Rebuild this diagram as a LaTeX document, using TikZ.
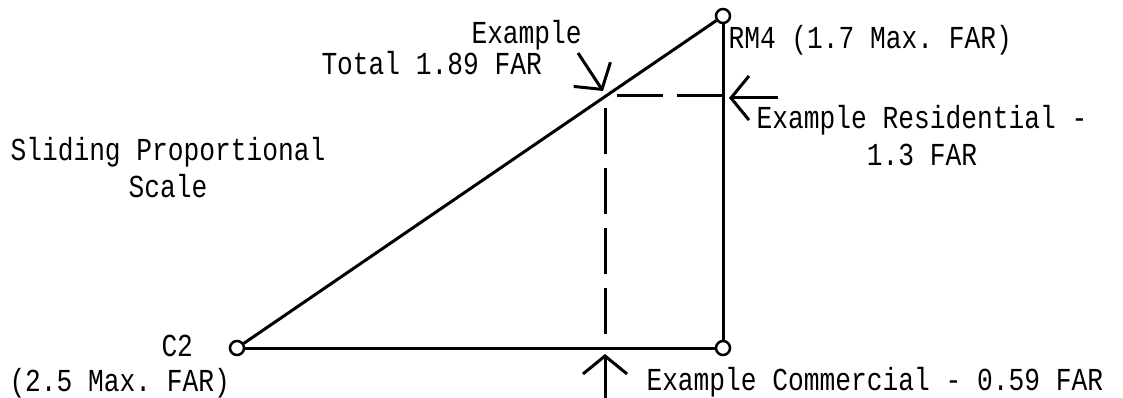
\documentclass[tikz,border=0pt]{standalone}
\usepackage{fontspec}
\setmonofont[FakeStretch=0.82]{Liberation Mono}
\usetikzlibrary{arrows.meta, positioning}

\begin{document}
\begin{tikzpicture}[
        x=1pt, y=-1pt,
        line width=3pt,
        vertex/.style={circle, draw, line width=2.5pt, minimum size=14pt, inner sep=0pt},
        lbl/.style={font=\ttfamily\fontsize{32}{37}\selectfont, inner sep=0pt, align=center},
        guide/.style={dash pattern=on 46pt off 14pt},
        pointer/.style={-{Straight Barb[length=18pt, width=44pt, line width=3pt]}}
    ]
        \useasboundingbox (0,0) rectangle (1123,398);

        % corners of the scale
        \node[vertex] (c2)   at (237,348) {};
        \node[vertex] (rm4)  at (723,16)  {};
        \node[vertex] (base) at (723,348) {};

        \draw (c2) -- (rm4);
        \draw (rm4) -- (base);
        \draw (base) -- (c2);

        % example split
        \coordinate (tot) at (605,96);
        \coordinate (res) at (723,96);
        \coordinate (com) at (605,346);
        \draw[guide] (res) -- (tot);
        \draw[guide, dash phase=-12pt] (tot) -- (com);

        \coordinate (totTail) at (578,53);
        \coordinate (totTip)  at (603,91);
        \coordinate (resTail) at (778,98);
        \coordinate (resTip)  at (729,98);
        \coordinate (comTail) at (605,398);
        \coordinate (comTip)  at (605,354);
        \draw[pointer] (totTail) -- (totTip);
        \draw[pointer] (resTail) -- (resTip);
        \draw[pointer] (comTail) -- (comTip);

        % labels
        \node[lbl, anchor=west] (rm4lbl) at (727,40) {RM4 (1.7 Max. FAR)};
        \node[lbl] (reslbl) at (922,136) {Example Residential -\\1.3 FAR};
        \node[lbl, anchor=west] (comlbl) at (645,382) {Example Commercial - 0.59 FAR};
        \node[lbl] (scalelbl) at (168,168) {Sliding Proportional\\Scale};
        \node[lbl, anchor=west] (c2lbl) at (160,346) {C2};
        \node[lbl, anchor=west] (c2far) at (8,383) {(2.5 Max. FAR)};
        \node[lbl, anchor=west] (exlbl) at (470,35) {Example};
        \node[lbl, anchor=west] (totlbl) at (320,63) {Total 1.89 FAR};
\end{tikzpicture}
\end{document}
